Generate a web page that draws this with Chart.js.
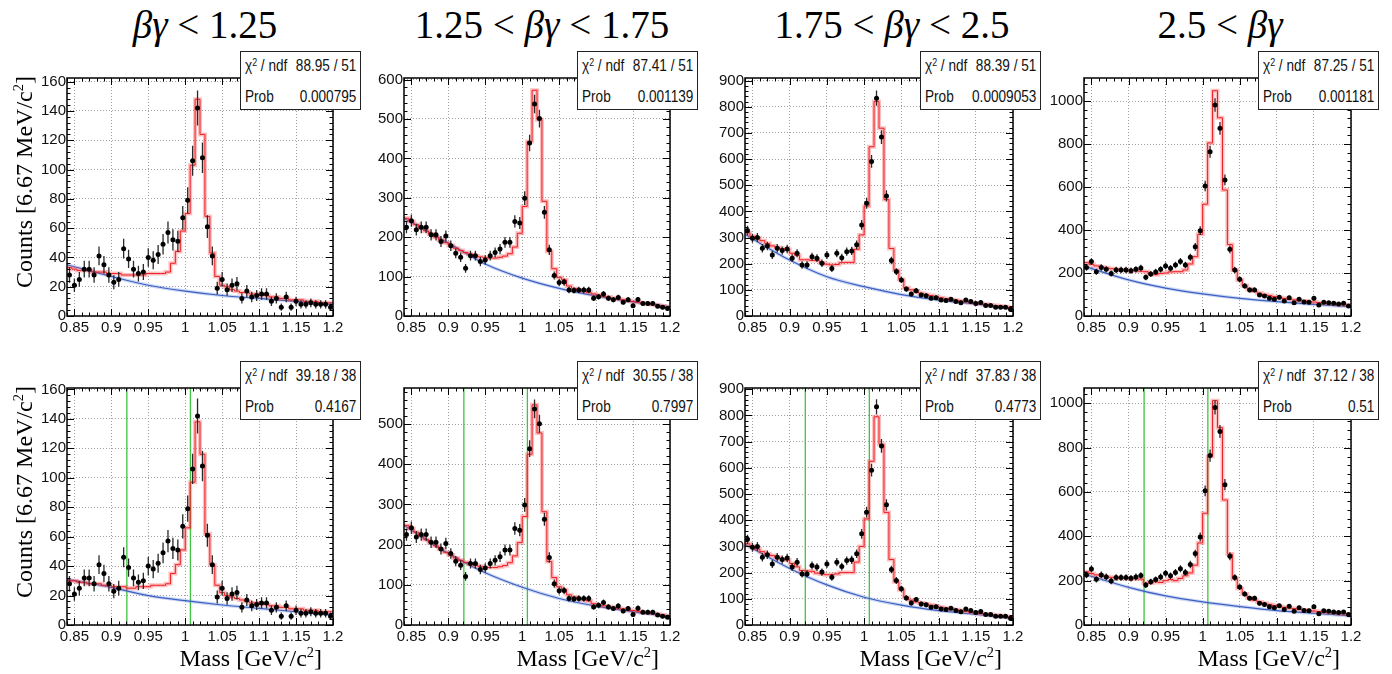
<!DOCTYPE html>
<html>
<head>
<meta charset="utf-8">
<script src="https://cdn.jsdelivr.net/npm/chart.js@4.4.1/dist/chart.umd.min.js"></script>
<style>
  body { margin: 0; width: 1392px; height: 674px; background: #fff; position: relative; overflow: hidden; }
  canvas { position: absolute; }
  .title { position: absolute; top: 5px; font-family: 'Liberation Serif', 'Times New Roman', serif; font-size: 39px; line-height: 39px; white-space: nowrap; transform: translateX(-50%); }
  .axtitle { position: absolute; font-family: 'Liberation Serif', 'Times New Roman', serif; font-size: 24px; line-height: 28px; white-space: nowrap; }
  .axtitle sup { font-size: 60%; vertical-align: 0.6em; line-height: 0; }
  .ytitle { width: 240px; height: 28px; text-align: center; transform: rotate(-90deg); }
  .xtitle { width: 200px; text-align: right; }
  .stat { position: absolute; width: 121px; height: 59px; box-sizing: border-box; border: 1.5px solid #222; background: #fff; z-index: 5;
          font-family: 'Liberation Sans', Arial, sans-serif; font-size: 16px; line-height: 18px; white-space: nowrap; color: #111; }
  .stat .row { position: absolute; left: 4px; width: 131px; display: flex; justify-content: space-between; white-space: nowrap;
               transform: scaleX(0.85); transform-origin: 0 0; }
  .stat sup { font-size: 65%; vertical-align: 0.5em; line-height: 0; }
</style>
</head>
<body>
<script>
// mass axis: 54 bins of 6.67 MeV from 0.84 to 1.2 GeV/c2
const massMin = 0.84;
const massMax = 1.2;
const binWidth = (massMax - massMin) / 54;
const massTicks = [0.85, 0.9, 0.95, 1, 1.05, 1.1, 1.15, 1.2];
const bgMass = [0.84, 0.9, 0.95, 1.0, 1.05, 1.1, 1.15, 1.2];
const windowEdges = [0.921, 1.007];   // green lines, lower row only

const titles = ['<i>βγ</i> &lt; 1.25', '1.25 &lt; <i>βγ</i> &lt; 1.75', '1.75 &lt; <i>βγ</i> &lt; 2.5', '2.5 &lt; <i>βγ</i>'];

// data (same in both rows)
const counts1 = [28,21,25,32,32,28,41,35,28,23,25,46,39,32,29,30,40,38,42,49,57,52,51,67,79,106,142,108,61,41,19,25,18,21,22,12,17,13,14,15,15,10,12,6,13,6,10,8,8,9,8,8,8,6];
const counts2 = [225,242,219,225,225,206,206,189,203,178,159,149,121,153,153,138,142,153,161,170,187,187,240,236,299,439,538,501,263,168,103,85,86,66,65,66,66,66,45,49,56,45,41,47,35,41,26,42,32,32,32,25,22,19];
const counts3 = [327,297,300,259,268,233,259,250,256,221,240,195,195,227,221,202,233,182,240,223,246,249,272,348,431,591,833,684,459,212,170,138,103,84,97,80,77,68,70,61,59,64,55,51,61,55,48,52,40,40,33,33,33,26];
const counts4 = [226,253,206,226,217,198,214,214,214,211,217,223,180,195,205,217,233,222,237,254,237,273,322,397,605,764,981,873,633,310,214,171,140,121,121,98,93,82,78,87,70,85,62,78,65,64,82,51,64,62,59,56,59,47];

// fitted histograms (red), upper row
const fitTop1 = [33,32,31,31,31,30,30,30,29,29,29,28,28,28,28,28,29,29,29,29,30,36,44,58,70,103,148,124,68,43,27,21,20,18,17,16,16,15,15,14,14,13,13,12,12,11,11,11,10,10,10,9,9,9];
const fitTop2 = [248,240,232,224,216,208,200,193,186,179,172,166,161,157,153,150,148,147,147,149,152,158,175,210,278,443,573,498,291,164,120,98,92,76,70,66,63,60,56,53,50,48,45,43,41,39,37,35,33,31,29,27,25,23];
const fitTop3 = [318,305,298,288,277,268,262,258,255,240,232,215,215,213,212,204,198,195,197,204,205,205,255,310,420,647,820,718,445,258,175,140,108,100,92,87,82,78,74,70,66,63,60,57,55,52,50,47,45,42,40,37,35,32];
const fitTop4 = [248,240,233,228,224,220,217,215,213,211,210,208,206,195,192,198,200,205,206,206,214,242,276,380,520,805,1048,922,586,332,214,168,142,126,115,106,100,95,90,86,82,78,75,72,70,67,65,62,60,58,56,54,52,50];
// fitted histograms (red), lower row
const fitBot1 = [30,30,29,29,28,28,28,27,27,26,26,26,25,25,26,26,26,27,27,27,28,35,41,51,66,97,138,116,62,41,27,22,20,19,18,17,16,15,15,14,14,13,13,12,12,11,11,11,10,10,10,9,9,9];
const fitBot2 = [248,240,231,222,213,205,197,189,181,174,167,161,156,152,149,146,144,143,143,145,148,155,172,205,270,425,548,478,282,158,118,95,88,75,70,66,63,60,53,50,48,46,44,42,40,38,36,34,32,30,29,27,25,23];
const fitBot3 = [310,300,290,280,272,265,258,252,248,235,222,208,206,205,198,195,192,192,195,200,200,200,240,300,405,625,795,690,430,250,165,135,105,95,88,84,80,76,72,68,64,61,58,55,52,49,47,44,42,40,37,35,32,30];
const fitBot4 = [240,232,226,222,218,215,213,211,210,209,208,207,188,190,195,192,200,205,200,210,222,235,270,370,504,760,1012,890,564,320,210,165,140,122,112,104,98,93,88,84,80,77,74,71,68,66,63,61,58,56,54,52,50,48];

// background curves (blue) at bgMass
const bgTop1 = [35, 27, 21, 17, 14, 12, 10, 8];
const bgTop2 = [248, 185, 132, 96, 70, 51, 36, 24];
const bgTop3 = [312, 214, 150, 112, 82, 61, 46, 29];
const bgTop4 = [232, 168, 130, 103, 82, 67, 54, 43];
const bgBot1 = [31, 25.5, 20, 16.5, 13.6, 11.3, 9, 7];
const bgBot2 = [248, 178, 130, 94, 66, 47, 33, 21];
const bgBot3 = [308, 216, 153, 106, 76, 55, 41, 25];
const bgBot4 = [230, 170, 131, 104, 83, 65, 53, 41];

// y axes
const yTicks1 = [0, 20, 40, 60, 80, 100, 120, 140, 160];
const yTicks2 = [0, 100, 200, 300, 400, 500, 600];
const yTicks2b = [0, 100, 200, 300, 400, 500];
const yTicks3 = [0, 100, 200, 300, 400, 500, 600, 700, 800, 900];
const yTicks4 = [0, 200, 400, 600, 800, 1000];
const yMaxTop = [162.5, 604, 910, 1107];
const yMaxBot = [161, 590, 905, 1069];

// fit statistics
const chi2Top = ['88.95 / 51', '87.41 / 51', '88.39 / 51', '87.25 / 51'];
const probTop = ['0.000795', '0.001139', '0.0009053', '0.001181'];
const chi2Bot = ['39.18 / 38', '30.55 / 38', '37.83 / 38', '37.12 / 38'];
const probBot = ['0.4167', '0.7997', '0.4773', '0.51'];

// layout
const colLeft = [67, 404, 745, 1084];
const colWidth = [266, 266, 268, 267];
const rowTop = [78, 388];
const rowHeight = [238, 237];
const titleCenter = [205, 542, 892, 1220];

const countsByCol = [counts1, counts2, counts3, counts4];
const fitRows = [[fitTop1, fitTop2, fitTop3, fitTop4], [fitBot1, fitBot2, fitBot3, fitBot4]];
const bgRows = [[bgTop1, bgTop2, bgTop3, bgTop4], [bgBot1, bgBot2, bgBot3, bgBot4]];
const yTickRows = [[yTicks1, yTicks2, yTicks3, yTicks4], [yTicks1, yTicks2b, yTicks3, yTicks4]];
const yMaxRows = [yMaxTop, yMaxBot];
const statRows = [[chi2Top, probTop], [chi2Bot, probBot]];

const tickFont = { family: "'Liberation Sans', Arial, sans-serif", size: 15 };

// ROOT style frame with inward major/minor ticks on all four sides
const rootFrame = {
  id: 'rootFrame',
  afterDatasetsDraw(chart) {
    const { ctx, chartArea: a, scales: { x, y } } = chart;
    ctx.save();
    ctx.strokeStyle = '#000';
    ctx.lineWidth = 1;
    ctx.beginPath();
    for (let k = 84; k <= 120; k++) {
      const px = Math.round(x.getPixelForValue(k / 100)) + 0.5;
      const len = k % 5 === 0 ? 7 : 3.5;
      ctx.moveTo(px, a.bottom); ctx.lineTo(px, a.bottom - len);
      ctx.moveTo(px, a.top); ctx.lineTo(px, a.top + len);
    }
    const step = y.ticks[1].value - y.ticks[0].value;
    for (let k = 0; k * step / 5 <= y.max; k++) {
      const py = Math.round(y.getPixelForValue(k * step / 5)) + 0.5;
      const len = k % 5 === 0 ? 7 : 3.5;
      ctx.moveTo(a.left, py); ctx.lineTo(a.left + len, py);
      ctx.moveTo(a.right, py); ctx.lineTo(a.right - len, py);
    }
    ctx.stroke();
    ctx.lineWidth = 1.5;
    ctx.strokeRect(a.left, a.top, a.right - a.left, a.bottom - a.top);
    ctx.restore();
  }
};

function addDiv(cls, html, style) {
  const d = document.createElement('div');
  d.className = cls;
  d.innerHTML = html;
  Object.assign(d.style, style);
  document.body.appendChild(d);
  return d;
}

function makePanel(r, c) {
  const L = colLeft[c], T = rowTop[r], W = colWidth[c], H = rowHeight[r];
  const counts = countsByCol[c];
  const fit = fitRows[r][c];
  const bg = bgRows[r][c];
  const yTicks = yTickRows[r][c];
  const yMax = yMaxRows[r][c];

  const cv = document.createElement('canvas');
  cv.width = 45 + W + 16;
  cv.height = 10 + H + 28;
  cv.style.left = (L - 45) + 'px';
  cv.style.top = (T - 10) + 'px';
  document.body.appendChild(cv);

  const points = counts.map((v, i) => ({ x: massMin + (i + 0.5) * binWidth, y: v }));
  // Poisson error bars, drawn as broken line segments
  const errors = [];
  points.forEach(p => {
    const e = Math.sqrt(p.y);
    errors.push({ x: p.x, y: p.y - e }, { x: p.x, y: p.y + e }, { x: p.x, y: null });
  });
  // histogram: value i holds from bin edge i to edge i+1
  const steps = fit.map((v, i) => ({ x: massMin + i * binWidth, y: v }));
  steps.push({ x: massMax, y: fit[fit.length - 1] });
  const bgLine = bgMass.map((m, i) => ({ x: m, y: bg[i] }));

  const datasets = [
    { data: points, showLine: false, pointRadius: 2.5, pointBackgroundColor: '#000', pointBorderWidth: 0, order: 0 },
    { data: errors, borderColor: '#2a2a2a', borderWidth: 1.3, pointRadius: 0, spanGaps: false, order: 1 },
    { data: steps, stepped: 'before', borderColor: '#ec1c24', borderWidth: 1, pointRadius: 0, order: 2 },
    { data: steps, stepped: 'before', borderColor: 'rgba(255,70,70,0.35)', borderWidth: 4, pointRadius: 0, order: 3 },
    { data: bgLine, cubicInterpolationMode: 'monotone', borderColor: '#3d5fc2', borderWidth: 1.2, pointRadius: 0, order: 4 },
    { data: bgLine, cubicInterpolationMode: 'monotone', borderColor: 'rgba(90,130,220,0.3)', borderWidth: 3.5, pointRadius: 0, order: 5 }
  ];
  if (r === 1) {
    const green = [];
    windowEdges.forEach(m => green.push({ x: m, y: 0 }, { x: m, y: yMax }, { x: m, y: null }));
    datasets.push({ data: green, borderColor: '#3fc43f', borderWidth: 1.3, pointRadius: 0, spanGaps: false, order: 6 });
  }

  new Chart(cv, {
    type: 'line',
    data: { datasets: datasets },
    options: {
      responsive: false,
      animation: false,
      devicePixelRatio: 1,
      events: [],
      layout: { padding: { left: 0, top: 10, right: 16, bottom: 0 } },
      plugins: { legend: { display: false }, tooltip: { enabled: false } },
      scales: {
        x: {
          type: 'linear', min: massMin, max: massMax,
          afterBuildTicks: s => { s.ticks = massTicks.map(v => ({ value: v })); },
          afterFit: s => { s.height = 28; },
          ticks: { font: tickFont, color: '#111', padding: 3, maxRotation: 0, autoSkip: false,
                   callback: v => String(+v.toFixed(2)) },
          grid: { color: '#a0a0a0', lineWidth: 1, drawTicks: false },
          border: { display: false, dash: [1, 2] }
        },
        y: {
          type: 'linear', min: 0, max: yMax,
          afterBuildTicks: s => { s.ticks = yTicks.map(v => ({ value: v })); },
          afterFit: s => { s.width = 45; },
          ticks: { font: tickFont, color: '#111', padding: 1, autoSkip: false, callback: v => String(v) },
          grid: { color: '#a0a0a0', lineWidth: 1, drawTicks: false },
          border: { display: false, dash: [1, 2] }
        }
      }
    },
    plugins: [rootFrame]
  });

  // stat box
  const st = statRows[r];
  const box = addDiv('stat', '', { left: (L + W - 93) + 'px', top: (T - 27) + 'px' });
  box.innerHTML =
    '<div class="row" style="top:5px"><span>χ<sup>2</sup> / ndf</span><span>' + st[0][c] + '</span></div>' +
    '<div class="row" style="top:36px"><span>Prob</span><span>' + st[1][c] + '</span></div>';

  if (c === 0) {
    addDiv('axtitle ytitle', 'Counts [6.67 MeV/c<sup>2</sup>]',
      { left: (24 - 120) + 'px', top: (T + 104 - 14) + 'px' });
  }
  if (r === 1) {
    addDiv('axtitle xtitle', 'Mass [GeV/c<sup>2</sup>]',
      { left: (L + W - 11 - 200) + 'px', top: '644px' });
  }
}

titles.forEach((t, c) => addDiv('title', t, { left: titleCenter[c] + 'px' }));
for (let r = 0; r < 2; r++) {
  for (let c = 0; c < 4; c++) makePanel(r, c);
}
</script>
</body>
</html>
